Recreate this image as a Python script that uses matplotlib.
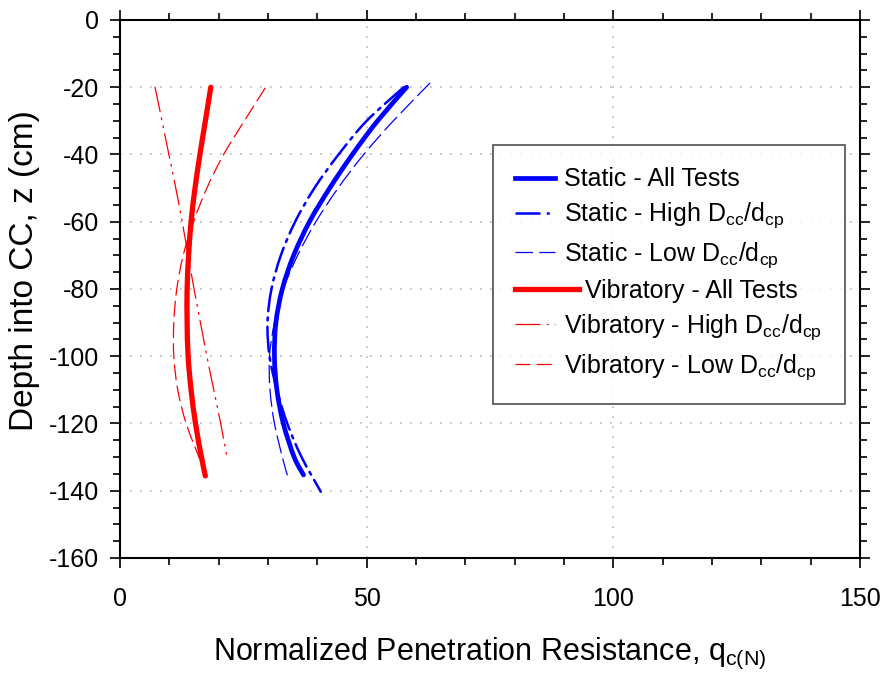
import matplotlib
matplotlib.use("Agg")
import matplotlib.pyplot as plt
from matplotlib.ticker import MultipleLocator
from matplotlib.path import Path
from matplotlib.patches import PathPatch
from matplotlib.legend_handler import HandlerLine2D

plt.rcParams['font.family'] = ['Liberation Sans', 'DejaVu Sans']
plt.rcParams['mathtext.fontset'] = 'custom'
plt.rcParams['mathtext.rm'] = 'Liberation Sans'
plt.rcParams['mathtext.it'] = 'Liberation Sans'
plt.rcParams['axes.unicode_minus'] = False

# depth (cm) and normalized resistance
static_all_z = [-20, -30, -40, -50, -60, -70, -80, -90, -100, -110, -120, -130, -135.3]
static_all_q = [58.1, 52.2, 47.1, 42.5, 38.4, 35.2, 32.9, 31.6, 31.3, 31.8, 33.1, 35.3, 37.2]

static_high_z = [-20, -30, -40, -50, -60, -70, -80, -90, -100, -110, -120, -130, -140.3]
static_high_q = [57.5, 50.0, 44.3, 39.4, 35.5, 32.6, 30.7, 29.9, 30.3, 31.8, 33.9, 36.8, 40.7]

static_low_z = [-18.8, -30, -40, -50, -60, -70, -80, -90, -100, -110, -120, -130, -135.3]
static_low_q = [62.8, 55.4, 49.4, 44.2, 39.7, 36.0, 33.1, 31.3, 30.3, 30.4, 31.3, 32.9, 33.9]

vib_all_z = [-20, -30, -40, -50, -60, -70, -80, -90, -100, -110, -120, -130, -135.6]
vib_all_q = [18.4, 17.3, 16.2, 15.2, 14.4, 13.9, 13.6, 13.6, 13.8, 14.4, 15.3, 16.5, 17.3]

vib_high_z = [-20, -30, -40, -50, -60, -70, -80, -90, -100, -110, -120, -129.4]
vib_high_q = [7.1, 8.5, 9.9, 11.3, 12.6, 13.8, 15.0, 16.3, 17.6, 19.0, 20.4, 21.6]

vib_low_z = [-20.3, -30, -40, -50, -60, -70, -80, -90, -100, -110, -120, -130.4]
vib_low_q = [29.4, 25.2, 21.0, 17.6, 14.9, 12.8, 11.5, 10.9, 10.9, 11.7, 13.4, 16.1]


def smooth_path(q, z):
    # Catmull-Rom through the read points, drawn as cubic Bezier segments
    pts = list(zip(q, z))
    n = len(pts)
    verts = [pts[0]]
    codes = [Path.MOVETO]
    for i in range(n - 1):
        p0 = pts[i - 1] if i > 0 else pts[i]
        p1 = pts[i]
        p2 = pts[i + 1]
        p3 = pts[i + 2] if i + 2 < n else pts[i + 1]
        c1 = (p1[0] + (p2[0] - p0[0]) / 6, p1[1] + (p2[1] - p0[1]) / 6)
        c2 = (p2[0] - (p3[0] - p1[0]) / 6, p2[1] - (p3[1] - p1[1]) / 6)
        verts += [c1, c2, p2]
        codes += [Path.CURVE4] * 3
    return Path(verts, codes)


# the vibratory "all tests" legend entry has a longer sample line
class LongHandler(HandlerLine2D):
    def create_artists(self, legend, orig_handle, xdescent, ydescent, width,
                       height, fontsize, trans):
        return super().create_artists(legend, orig_handle, xdescent, ydescent,
                                      width * 1.6, height, fontsize, trans)


fig = plt.figure(figsize=(8.8, 6.77), dpi=100)
ax = fig.add_axes([0.1364, 0.1758, 0.8409, 0.7947])

blue = '#0000ff'
red = '#ff0000'
series = [
    (static_all_q, static_all_z, blue, 3.4, '-', 'Static - All Tests'),
    (static_high_q, static_high_z, blue, 1.8, (0, (10, 2.5, 1.2, 2.5)),
     'Static - High D$_{cc}$/d$_{cp}$'),
    (static_low_q, static_low_z, blue, 0.9, (0, (14, 5)),
     'Static - Low D$_{cc}$/d$_{cp}$'),
    (vib_all_q, vib_all_z, red, 3.8, '-', '   Vibratory - All Tests'),
    (vib_high_q, vib_high_z, red, 0.9, (0, (20, 5, 1.5, 5, 1.5, 5)),
     'Vibratory - High D$_{cc}$/d$_{cp}$'),
    (vib_low_q, vib_low_z, red, 0.9, (0, (12, 5)),
     'Vibratory - Low D$_{cc}$/d$_{cp}$'),
]

handles = []
for q, z, col, lw, ls, lab in series:
    ax.add_patch(PathPatch(smooth_path(q, z), fill=False, edgecolor=col, lw=lw,
                           linestyle=ls, capstyle='round', zorder=3))
    h, = ax.plot([], [], color=col, lw=lw, linestyle=ls, label=lab)
    handles.append(h)

ax.set_xlim(0, 150)
ax.set_ylim(-160, 0)
ax.xaxis.set_major_locator(MultipleLocator(50))
ax.xaxis.set_minor_locator(MultipleLocator(10))
ax.yaxis.set_major_locator(MultipleLocator(20))
ax.yaxis.set_minor_locator(MultipleLocator(5))
ax.tick_params(which='both', direction='out', top=True, right=True, width=1.2,
               labelsize=18)
ax.tick_params(axis='x', which='major', pad=14)
ax.tick_params(axis='y', which='major', pad=8)
ax.tick_params(which='major', length=7)
ax.tick_params(which='minor', length=5)
for s in ax.spines.values():
    s.set_linewidth(1.5)

ax.grid(True, which='major', color='#b8b8b8', linestyle=(0, (1, 5)), lw=1.2)

ax.set_xlabel('Normalized Penetration Resistance, q$_{c(N)}$', fontsize=22, labelpad=18)
ax.set_ylabel('Depth into CC, z (cm)', fontsize=24)
ax.yaxis.set_label_coords(-0.108, 0.535)

leg = ax.legend(handles=handles, loc='upper left', bbox_to_anchor=(0.504, 0.768),
                fontsize=18, frameon=True, fancybox=False, edgecolor='#222222',
                handlelength=1.6, borderpad=0.9, labelspacing=0.38,
                handletextpad=0.35, borderaxespad=0,
                handler_map={handles[3]: LongHandler()})
leg.get_frame().set_linewidth(1.2)

fig.savefig('out.png', dpi=100)
